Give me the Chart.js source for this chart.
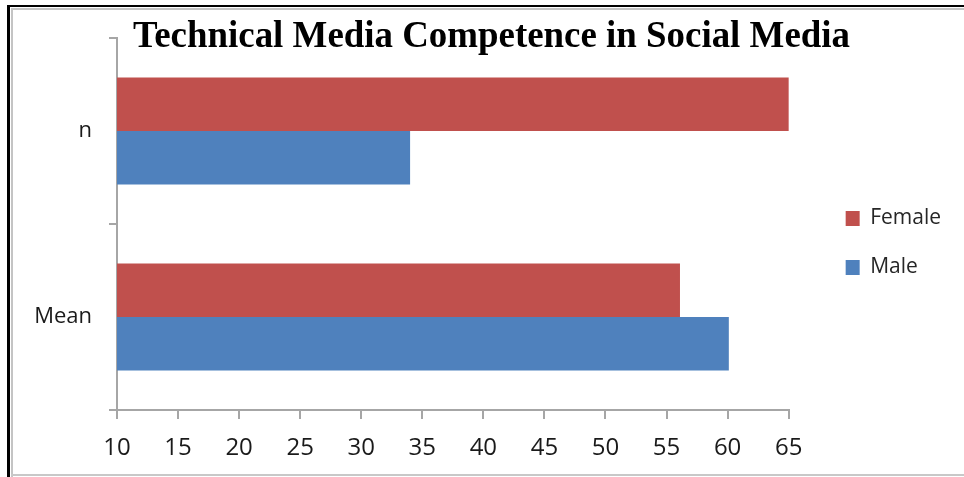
<!DOCTYPE html>
<html><head><meta charset="utf-8">
<script src="https://cdn.jsdelivr.net/npm/chart.js@4.4.1/dist/chart.umd.min.js"></script>
<style>
html,body{margin:0;padding:0;background:#fff;}
#wrap{position:relative;width:964px;height:477px;overflow:hidden;background:#fff;}
.f{position:absolute;}
canvas{position:absolute;left:0;top:0;}
</style></head><body>
<div id="wrap">
<div class="f" style="left:7px;top:5px;width:957px;height:2px;background:#000"></div>
<div class="f" style="left:7px;top:5px;width:3px;height:472px;background:#000"></div>
<div class="f" style="left:11px;top:8px;width:953px;height:2px;background:#c4c4c4"></div>
<div class="f" style="left:11px;top:8px;width:2px;height:469px;background:#c4c4c4"></div>
<div class="f" style="left:11px;top:474px;width:953px;height:2px;background:#c8c8c8"></div>
<canvas id="c" width="964" height="477"></canvas>
</div>
<script>
const categories = ['n', 'Mean'];
const seriesNames = ['Female', 'Male'];
const femaleValues = [65.3, 56.1];
const maleValues = [34, 60.1];
const xMin = 10, xMax = 65, xStep = 5;
const chartTitle = 'Technical Media Competence in Social Media';
const seriesColors = ['#C0504D', '#4F81BD'];
const axisColor = '#a6a6a6';

const titlePlugin = {
  id: 'overlayTitle',
  afterLayout(chart) {
    // let the x tick labels draw below the (compact) axis box
    chart.scales.x.bottom = chart.height;
  },
  afterDraw(chart) {
    const ctx = chart.ctx;
    ctx.save();
    ctx.font = 'bold 38px "Liberation Serif", "DejaVu Serif", serif';
    ctx.fillStyle = '#000';
    ctx.textBaseline = 'alphabetic';
    ctx.textAlign = 'center';
    const w = ctx.measureText(chartTitle).width;
    const sx = 717 / w;
    ctx.translate(491.5, 47);
    ctx.scale(sx, 1);
    ctx.fillText(chartTitle, 0, 0);
    ctx.restore();
  }
};

new Chart(document.getElementById('c'), {
  type: 'bar',
  data: {
    labels: categories,
    datasets: [
      { label: seriesNames[0], data: femaleValues, backgroundColor: seriesColors[0], borderWidth: 0, categoryPercentage: 0.575, barPercentage: 1 },
      { label: seriesNames[1], data: maleValues, backgroundColor: seriesColors[1], borderWidth: 0, categoryPercentage: 0.575, barPercentage: 1 }
    ]
  },
  options: {
    indexAxis: 'y',
    responsive: false,
    animation: false,
    devicePixelRatio: 1,
    layout: { padding: { top: 38, bottom: 29, left: 0, right: 13 } },
    plugins: {
      legend: {
        position: 'right', align: 'center',
        labels: { boxWidth: 14, boxHeight: 15, padding: 28, color: '#262626', font: { family: '"Open Sans"', size: 21 } }
      },
      tooltip: { enabled: false },
      title: { display: false }
    },
    scales: {
      x: {
        type: 'linear', position: 'bottom', min: xMin, max: xMax,
        ticks: { stepSize: xStep, color: '#1a1a1a', font: { family: '"Open Sans"', size: 24 }, padding: 15, maxRotation: 0, autoSkip: false },
        grid: { drawOnChartArea: false, drawTicks: true, tickLength: 9, color: axisColor, lineWidth: 2 },
        border: { color: axisColor, width: 2 },
        afterFit: s => { s.height = 38; }
      },
      y: {
        type: 'category', position: 'left',
        ticks: { color: '#1a1a1a', font: { family: '"Open Sans"', size: 22 }, padding: 17 },
        grid: { drawOnChartArea: false, offset: true, tickLength: 8, color: axisColor, lineWidth: 2 },
        border: { color: axisColor, width: 2 },
        afterFit: s => { s.width = 117; }
      },
      pad: {
        type: 'linear', position: 'right', display: true,
        grid: { display: false }, border: { display: false }, ticks: { display: false },
        afterFit: s => { s.width = 29; }
      }
    }
  },
  plugins: [titlePlugin]
});
</script>
</body></html>
